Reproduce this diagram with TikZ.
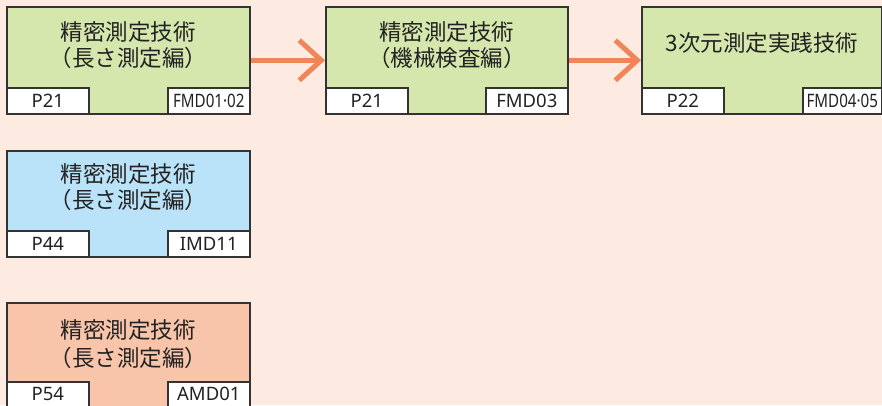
\documentclass[tikz,border=0pt]{standalone}
\usepackage{fontspec}
\setmainfont{Noto Sans CJK JP}
\newfontfamily\tabfont{Noto Sans}
\usetikzlibrary{arrows.meta}
\definecolor{bgpeach}{HTML}{FDEBE2}
\definecolor{boxgreen}{HTML}{D6E7AE}
\definecolor{boxblue}{HTML}{BAE2F8}
\definecolor{boxsalmon}{HTML}{F8C5AA}
\definecolor{flowarrow}{HTML}{F0855A}
\definecolor{edgedark}{HTML}{333333}
\definecolor{textdark}{HTML}{222222}
\begin{document}
\begin{tikzpicture}[x=1pt, y=-1pt,
    course/.style={draw=edgedark, line width=1.6pt, anchor=north west, inner sep=0pt, minimum width=243pt, minimum height=107pt},
    title/.style={align=center, text=textdark, inner sep=0pt, font=\fontsize{22.5pt}{26pt}\selectfont},
    tab/.style={draw=edgedark, line width=1.6pt, fill=white, text=textdark, inner sep=0pt, minimum width=82pt, minimum height=26pt, font=\tabfont\fontsize{18.5pt}{20pt}\selectfont},
    flow/.style={flowarrow, line width=5pt, -{Straight Barb[length=22pt, width=40pt]}}]
    % Sfondo
    \fill[bgpeach] (0,0) rectangle (882,405);
    \clip (0,0) rectangle (882,405);

    % Riga superiore
    \node[course, fill=boxgreen] (fmd_a) at (6,6) {};
    \node[course, fill=boxgreen, minimum width=242pt] (fmd_b) at (325,6) {};
    \node[course, fill=boxgreen, minimum width=240pt] (fmd_c) at (641,6) {};
    \node[title] (fmd_a_t) at ([yshift=-39pt]fmd_a.north) {精密測定技術\\（長さ測定編）};
    \node[title] (fmd_b_t) at ([yshift=-39pt]fmd_b.north) {精密測定技術\\（機械検査編）};
    \node[title] (fmd_c_t) at ([yshift=-37pt]fmd_c.north) {3次元測定実践技術};
    \node[tab, anchor=south west] (fmd_a_p) at (fmd_a.south west) {P21};
    \node[tab, anchor=south east] (fmd_a_c) at (fmd_a.south east) {\scalebox{0.82}[1]{FMD01·02}};
    \node[tab, anchor=south west] (fmd_b_p) at (fmd_b.south west) {P21};
    \node[tab, anchor=south east] (fmd_b_c) at (fmd_b.south east) {FMD03};
    \node[tab, anchor=south west] (fmd_c_p) at (fmd_c.south west) {P22};
    \node[tab, anchor=south east, minimum width=79pt] (fmd_c_c) at (fmd_c.south east) {\scalebox{0.82}[1]{FMD04·05}};

    % Frecce
    \draw[flow] (fmd_a.east) -- (fmd_b.west);
    \draw[flow] (fmd_b.east) -- (fmd_c.west);

    % Blu
    \node[course, fill=boxblue, minimum height=106pt] (imd) at (6,150) {};
    \node[title] (imd_t) at ([yshift=-37pt]imd.north) {精密測定技術\\（長さ測定編）};
    \node[tab, anchor=south west] (imd_p) at (imd.south west) {P44};
    \node[tab, anchor=south east] (imd_c) at (imd.south east) {IMD11};

    % Salmone
    \node[course, fill=boxsalmon, minimum height=104pt] (amd) at (6,302) {};
    \node[title, font=\fontsize{22.5pt}{28pt}\selectfont] (amd_t) at ([yshift=-42pt]amd.north) {精密測定技術\\（長さ測定編）};
    \node[tab, anchor=south west, minimum height=25pt] (amd_p) at (amd.south west) {P54};
    \node[tab, anchor=south east, minimum height=25pt] (amd_c) at (amd.south east) {AMD01};
\end{tikzpicture}
\end{document}
